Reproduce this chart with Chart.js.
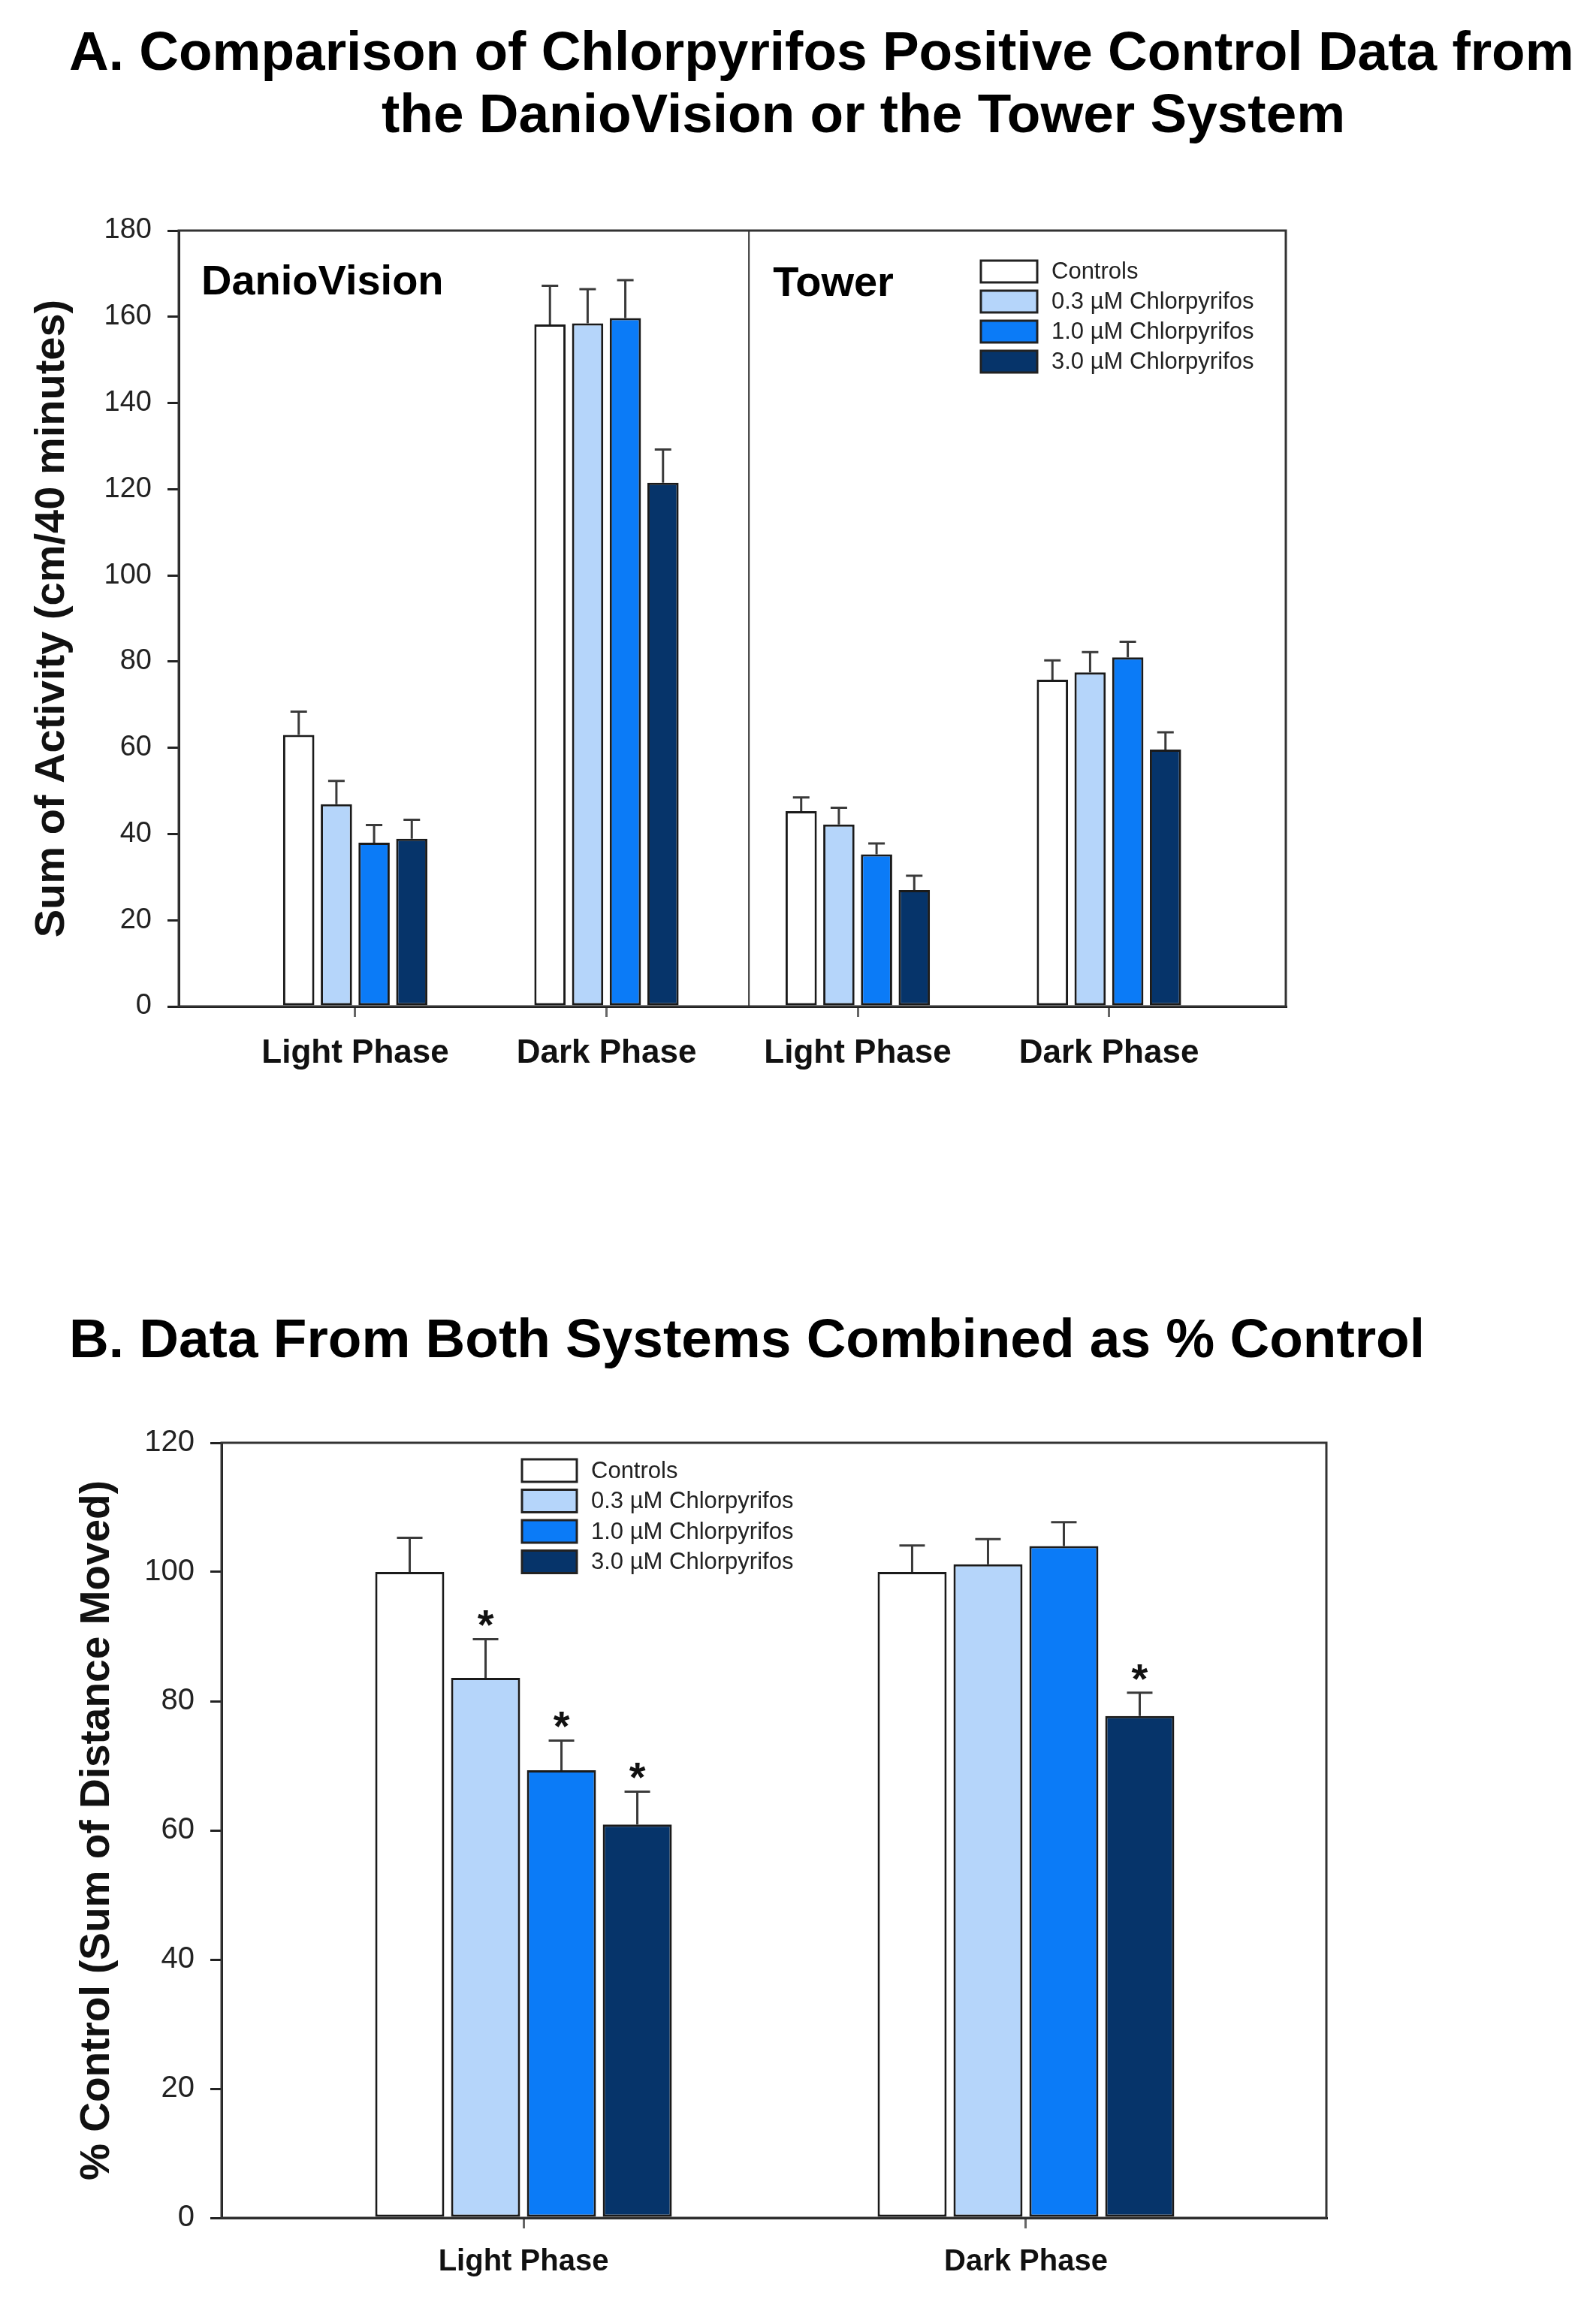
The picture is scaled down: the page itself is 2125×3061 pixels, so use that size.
<!DOCTYPE html>
<html>
<head>
<meta charset="utf-8">
<script src="https://cdn.jsdelivr.net/npm/chart.js@4.4.1/dist/chart.umd.min.js"></script>
<style>
    body {
        margin: 0;
        background: #fff;
        width: 2125px;
        height: 3061px;
        position: relative;
        overflow: hidden;
        font-family: 'Liberation Sans', Arial, sans-serif;
    }
    .title {
        position: absolute;
        font-weight: bold;
        font-size: 73px;
        line-height: 73px;
        color: #000;
        white-space: nowrap;
    }
    canvas {
        position: absolute;
        left: 0;
    }
</style>
</head>
<body>
<div class="title" style="left:92px; top:31px;">A. Comparison of Chlorpyrifos Positive Control Data from</div>
<div class="title" style="left:508px; top:114px;">the DanioVision or the Tower System</div>
<div class="title" style="left:92px; top:1745px;">B. Data From Both Systems Combined as % Control</div>

<canvas id="chart-a" width="1800" height="1210" style="top:250px"></canvas>
<canvas id="chart-b" width="1850" height="1211" style="top:1850px"></canvas>

<script>
// ---- data ----
const seriesNames = ['Controls', '0.3 µM Chlorpyrifos', '1.0 µM Chlorpyrifos', '3.0 µM Chlorpyrifos']
const seriesColors = ['#ffffff', '#b5d5fa', '#0b7bf7', '#06346a']

// panel A: DanioVision light/dark, Tower light/dark
const categoriesA = ['Light Phase', 'Dark Phase', 'Light Phase', 'Dark Phase']
const systemsA = ['DanioVision', 'Tower']
const controlsA = [63.0, 158.2, 45.3, 75.8]
const cpf03A = [46.9, 158.5, 42.2, 77.5]
const cpf10A = [38.0, 159.7, 35.3, 81.0]
const cpf30A = [38.9, 121.5, 27.0, 59.6]
const controlsErrA = [5.4, 9.0, 3.2, 4.5]
const cpf03ErrA = [5.4, 7.9, 3.9, 4.7]
const cpf10ErrA = [4.1, 8.8, 2.5, 3.6]
const cpf30ErrA = [4.4, 7.7, 3.3, 4.0]
const yTicksA = [0, 180, 20]

// panel B: both systems as % control
const categoriesB = ['Light Phase', 'Dark Phase']
const controlsB = [100.0, 100.0]
const cpf03B = [83.6, 101.2]
const cpf10B = [69.3, 104.0]
const cpf30B = [60.9, 77.7]
const controlsErrB = [5.3, 4.1]
const cpf03ErrB = [6.0, 3.9]
const cpf10ErrB = [4.6, 3.7]
const cpf30ErrB = [5.1, 3.6]
const sigB = [[false, false], [true, false], [true, false], [true, true]]
const yTicksB = [0, 120, 20]

const fontFamily = "'Liberation Sans', Arial, sans-serif"

const makeDatasets = (values, errors, sig) => values.map((vals, s) => ({
    label: seriesNames[s],
    data: vals.map((v, i) => ({ x: i, y: v })),
    errors: errors[s],
    sig: sig ? sig[s] : null,
    backgroundColor: seriesColors[s],
    borderColor: '#1a1a1a',
    borderWidth: 3,
    borderSkipped: false
}))

const drawLegend = (ctx, chart, lg) => {
    chart.data.datasets.forEach((ds, i) => {
        const y = lg.y + i * lg.pitch
        ctx.fillStyle = ds.backgroundColor
        ctx.fillRect(lg.x, y, lg.w, lg.h)
        ctx.strokeStyle = '#222'
        ctx.lineWidth = 3
        ctx.strokeRect(lg.x, y, lg.w, lg.h)
        ctx.fillStyle = '#222'
        ctx.font = `${lg.size}px ${fontFamily}`
        ctx.textAlign = 'left'
        ctx.textBaseline = 'middle'
        ctx.fillText(ds.label, lg.textX, y + lg.h / 2 + 1)
    })
}

// frame, error bars, asterisks, legend, system names
const extras = {
    id: 'extras',
    afterDatasetsDraw(chart, args, opts) {
        const ctx = chart.ctx
        const { left, right, top, bottom } = chart.chartArea
        const xs = chart.scales.x
        const ys = chart.scales.y
        ctx.save()

        ctx.strokeStyle = '#333'
        ctx.lineWidth = 3
        ctx.strokeRect(left, top, right - left, bottom - top)

        if (opts.split != null) {
            const sx = xs.getPixelForValue(opts.split)
            ctx.lineWidth = 2
            ctx.beginPath()
            ctx.moveTo(sx, top)
            ctx.lineTo(sx, bottom)
            ctx.stroke()

            ctx.fillStyle = '#000'
            ctx.font = `bold 56px ${fontFamily}`
            ctx.textAlign = 'left'
            ctx.textBaseline = 'alphabetic'
            ctx.fillText(opts.systems[0], left + 30, top + 85)
            ctx.fillText(opts.systems[1], sx + 32, top + 87)
        }

        chart.data.datasets.forEach((ds, d) => {
            const meta = chart.getDatasetMeta(d)
            meta.data.forEach((bar, i) => {
                const capY = ys.getPixelForValue(ds.data[i].y + ds.errors[i])
                ctx.strokeStyle = '#3a3a3a'
                ctx.lineWidth = 3
                ctx.beginPath()
                ctx.moveTo(bar.x, bar.y)
                ctx.lineTo(bar.x, capY)
                ctx.moveTo(bar.x - opts.capWidth / 2, capY)
                ctx.lineTo(bar.x + opts.capWidth / 2, capY)
                ctx.stroke()

                if (ds.sig && ds.sig[i]) {
                    ctx.fillStyle = '#111'
                    ctx.font = `bold 56px ${fontFamily}`
                    ctx.textAlign = 'center'
                    ctx.textBaseline = 'alphabetic'
                    ctx.fillText('*', bar.x, capY)
                }
            })
        })

        drawLegend(ctx, chart, opts.legend)
        ctx.restore()
    }
}

const makeChart = (canvas, cfg) => new Chart(canvas.getContext('2d'), {
    type: 'bar',
    data: { datasets: cfg.datasets },
    plugins: [extras],
    options: {
        responsive: false,
        animation: false,
        devicePixelRatio: 1,
        categoryPercentage: cfg.catPct,
        barPercentage: cfg.barPct,
        layout: { padding: cfg.padding },
        plugins: {
            legend: { display: false },
            tooltip: { enabled: false },
            extras: cfg.extras
        },
        scales: {
            x: {
                type: 'linear',
                min: cfg.xMin,
                max: cfg.xMax,
                offset: false,
                afterBuildTicks: s => { s.ticks = cfg.labels.map((_, i) => ({ value: i })) },
                afterFit: s => { s.height = cfg.xHeight },
                grid: { offset: false, drawOnChartArea: false, drawTicks: true, tickLength: 14, color: '#666', lineWidth: 3 },
                border: { display: true, color: '#111', width: 3 },
                ticks: {
                    autoSkip: false,
                    maxRotation: 0,
                    minRotation: 0,
                    padding: cfg.xPad,
                    color: '#111',
                    font: { family: fontFamily, size: cfg.xFont, weight: 'bold' },
                    callback: v => cfg.labels[v] ?? ''
                }
            },
            y: {
                min: cfg.yTicks[0],
                max: cfg.yTicks[1],
                afterFit: s => { s.width = cfg.yWidth },
                grid: { drawOnChartArea: false, drawTicks: true, tickLength: 15, color: '#222', lineWidth: 3 },
                border: { display: true, color: '#111', width: 3 },
                ticks: {
                    stepSize: cfg.yTicks[2],
                    padding: 21,
                    color: '#222',
                    font: { family: fontFamily, size: cfg.yFont }
                },
                title: {
                    display: true,
                    text: cfg.yTitle,
                    color: '#111',
                    font: { family: fontFamily, size: cfg.yTitleFont, weight: 'bold' },
                    padding: { top: cfg.yTitlePad, bottom: 0 }
                }
            }
        }
    }
})

makeChart(document.getElementById('chart-a'), {
    datasets: makeDatasets(
        [controlsA, cpf03A, cpf10A, cpf30A],
        [controlsErrA, cpf03ErrA, cpf10ErrA, cpf30ErrA]
    ),
    labels: categoriesA,
    xMin: -0.7025,
    xMax: 3.704,
    catPct: 0.6,
    barPct: 0.83,
    padding: { left: 0, top: 57, right: 88, bottom: 0 },
    xHeight: 120,
    xPad: 22,
    xFont: 44,
    yTicks: yTicksA,
    yWidth: 238,
    yFont: 38,
    yTitle: 'Sum of Activity (cm/40 minutes)',
    yTitleFont: 56,
    yTitlePad: 36,
    extras: {
        split: 1.567,
        systems: systemsA,
        capWidth: 22,
        legend: { x: 1306, y: 97, w: 75, h: 29, pitch: 40, textX: 1400, size: 31 }
    }
})

makeChart(document.getElementById('chart-b'), {
    datasets: makeDatasets(
        [controlsB, cpf03B, cpf10B, cpf30B],
        [controlsErrB, cpf03ErrB, cpf10ErrB, cpf30ErrB],
        sigB
    ),
    labels: categoriesB,
    xMin: -0.601,
    xMax: 1.598,
    catPct: 0.604,
    barPct: 0.91,
    padding: { left: 0, top: 71, right: 84, bottom: 0 },
    xHeight: 108,
    xPad: 21,
    xFont: 40,
    yTicks: yTicksB,
    yWidth: 295,
    yFont: 40,
    yTitle: '% Control (Sum of Distance Moved)',
    yTitleFont: 55,
    yTitlePad: 97,
    extras: {
        split: null,
        capWidth: 34,
        legend: { x: 695, y: 93, w: 73, h: 30, pitch: 40.5, textX: 787, size: 31 }
    }
})
</script>
</body>
</html>
